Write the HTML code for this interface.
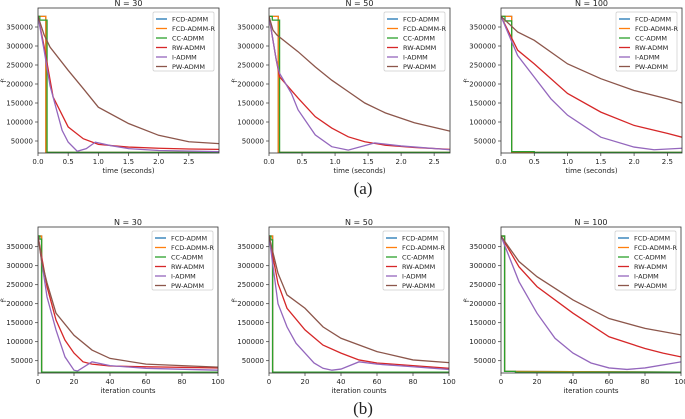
<!DOCTYPE html>
<html><head><meta charset="utf-8"><style>
body{margin:0;background:#fff}
svg{display:block;font-family:"DejaVu Sans","Liberation Sans",sans-serif}
</style></head><body>
<svg id="fig" width="685" height="419" viewBox="0 0 685 419"></svg>
<script>
// ---- data ----
const seriesNames = ["FCD-ADMM","FCD-ADMM-R","CC-ADMM","RW-ADMM","I-ADMM","PW-ADMM"];
const seriesColors = ["#1f77b4","#ff7f0e","#2ca02c","#d62728","#9467bd","#8c564b"];
const yTicks = [50000,100000,150000,200000,250000,300000,350000];
const timeTicks = [0,0.5,1.0,1.5,2.0,2.5];
const iterTicks = [0,20,40,60,80,100];
const panelTitles = ["N = 30","N = 50","N = 100","N = 30","N = 50","N = 100"];
const panelXmax = [3.0,2.74,2.72,100,100,100];

// panel 1 (N=30, time)
const p1_fcd_x=[0,0.13,0.13,3.0], p1_fcd_y=[378000,378000,20000,20000];
const p1_fcdr_x=[0,0.13,0.13,3.0], p1_fcdr_y=[378000,378000,20000,20000];
const p1_cc_x=[0,0.03,0.03,0.15,0.15,3.0], p1_cc_y=[378000,378000,368000,368000,20000,20000];
const p1_rw_x=[0,0.1,0.25,0.5,0.75,1.0,1.5,2.0,2.5,3.0], p1_rw_y=[378000,300000,166000,87000,56000,41000,34000,31000,29000,28000];
const p1_i_x=[0,0.1,0.2,0.4,0.5,0.65,0.8,0.95,1.2,1.5,2.0,3.0], p1_i_y=[378000,290000,195000,78000,47000,23000,30000,47000,38000,30000,25000,22000];
const p1_pw_x=[0,0.1,0.2,0.5,0.75,1.0,1.5,2.0,2.5,3.0], p1_pw_y=[378000,330000,297000,236000,188000,139000,96000,65000,48000,43000];
// panel 2 (N=50, time)
const p2_fcd_x=[0,0.14,0.14,2.74], p2_fcd_y=[378000,378000,20000,20000];
const p2_fcdr_x=[0,0.14,0.14,2.74], p2_fcdr_y=[378000,378000,20000,20000];
const p2_cc_x=[0,0.05,0.05,0.16,0.16,2.74], p2_cc_y=[378000,378000,368000,368000,20000,20000];
const p2_rw_x=[0,0.11,0.16,0.44,0.7,0.95,1.2,1.45,1.76,2.2,2.74], p2_rw_y=[378000,263000,219000,163000,114000,84000,61000,48000,39000,33000,28000];
const p2_i_x=[0,0.11,0.16,0.34,0.44,0.7,0.95,1.2,1.6,2.0,2.74], p2_i_y=[378000,263000,228000,175000,132000,66000,35000,26000,45000,37000,27000];
const p2_pw_x=[0,0.06,0.12,0.44,0.7,0.95,1.2,1.45,1.76,2.2,2.74], p2_pw_y=[378000,342000,329000,285000,245000,210000,180000,150000,124000,98000,76000];
// panel 3 (N=100, time)
const p3_fcd_x=[0,0.16,0.16,2.72], p3_fcd_y=[378000,378000,20000,20000];
const p3_fcdr_x=[0,0.16,0.16,2.72], p3_fcdr_y=[378000,378000,20000,20000];
const p3_cc_x=[0,0.06,0.06,0.16,0.16,0.5,0.5,2.72], p3_cc_y=[378000,378000,366000,366000,22000,22000,20000,20000];
const p3_rw_x=[0,0.25,0.5,1.0,1.5,2.0,2.5,2.72], p3_rw_y=[378000,289000,253000,175000,126000,91000,70000,60000];
const p3_i_x=[0,0.25,0.5,0.75,1.0,1.5,2.0,2.3,2.72], p3_i_y=[378000,275000,218000,161000,118000,60000,34000,27000,31000];
const p3_pw_x=[0,0.25,0.5,1.0,1.5,2.0,2.5,2.72], p3_pw_y=[378000,337000,315000,253000,214000,183000,161000,150000];
// panel 4 (N=30, iterations)
const p4_fcd_x=[0,2,2,100], p4_fcd_y=[378000,378000,20000,20000];
const p4_fcdr_x=[0,2,2,100], p4_fcdr_y=[378000,378000,20000,20000];
const p4_cc_x=[0,1,1,2,2,100], p4_cc_y=[378000,378000,370000,370000,20000,20000];
const p4_rw_x=[0,5,10,15,20,25,30,40,60,100], p4_rw_y=[378000,245000,157000,104000,70000,47000,41000,36000,34000,31000];
const p4_i_x=[0,5,10,15,20,22,30,40,60,100], p4_i_y=[378000,218000,131000,60000,25000,23000,47000,37000,30000,25000];
const p4_pw_x=[0,2,5,10,20,30,40,60,100], p4_pw_y=[378000,312000,255000,175000,117000,78000,56000,41000,33000];
// panel 5 (N=50, iterations)
const p5_fcd_x=[0,2,2,100], p5_fcd_y=[378000,378000,20000,20000];
const p5_fcdr_x=[0,2,2,100], p5_fcdr_y=[378000,378000,20000,20000];
const p5_cc_x=[0,1,1,2,2,100], p5_cc_y=[378000,378000,368000,368000,20000,20000];
const p5_rw_x=[0,5,10,20,30,40,50,60,80,100], p5_rw_y=[378000,253000,188000,131000,91000,70000,52000,44000,37000,30000];
const p5_i_x=[0,5,10,15,20,25,30,35,40,50,60,80,100], p5_i_y=[378000,200000,139000,96000,70000,44000,30000,25000,28000,47000,41000,34000,27000];
const p5_pw_x=[0,5,10,20,30,40,60,80,100], p5_pw_y=[378000,280000,223000,188000,139000,109000,74000,52000,45000];
// panel 6 (N=100, iterations)
const p6_fcd_x=[0,2,2,100], p6_fcd_y=[378000,378000,22000,20000];
const p6_fcdr_x=[0,2,2,100], p6_fcdr_y=[378000,378000,22000,20000];
const p6_cc_x=[0,2,2,8,8,100], p6_cc_y=[378000,378000,22000,22000,20000,20000];
const p6_rw_x=[0,10,20,40,60,80,90,100], p6_rw_y=[378000,297000,245000,175000,113000,82000,70000,60000];
const p6_i_x=[0,10,20,30,40,50,60,70,80,100], p6_i_y=[378000,258000,175000,109000,70000,44000,31000,27000,31000,47000];
const p6_pw_x=[0,10,20,40,60,80,100], p6_pw_y=[378000,311000,271000,210000,161000,135000,118000];

const panelData = [
 [[p1_fcd_x,p1_fcd_y],[p1_fcdr_x,p1_fcdr_y],[p1_cc_x,p1_cc_y],[p1_rw_x,p1_rw_y],[p1_i_x,p1_i_y],[p1_pw_x,p1_pw_y]],
 [[p2_fcd_x,p2_fcd_y],[p2_fcdr_x,p2_fcdr_y],[p2_cc_x,p2_cc_y],[p2_rw_x,p2_rw_y],[p2_i_x,p2_i_y],[p2_pw_x,p2_pw_y]],
 [[p3_fcd_x,p3_fcd_y],[p3_fcdr_x,p3_fcdr_y],[p3_cc_x,p3_cc_y],[p3_rw_x,p3_rw_y],[p3_i_x,p3_i_y],[p3_pw_x,p3_pw_y]],
 [[p4_fcd_x,p4_fcd_y],[p4_fcdr_x,p4_fcdr_y],[p4_cc_x,p4_cc_y],[p4_rw_x,p4_rw_y],[p4_i_x,p4_i_y],[p4_pw_x,p4_pw_y]],
 [[p5_fcd_x,p5_fcd_y],[p5_fcdr_x,p5_fcdr_y],[p5_cc_x,p5_cc_y],[p5_rw_x,p5_rw_y],[p5_i_x,p5_i_y],[p5_pw_x,p5_pw_y]],
 [[p6_fcd_x,p6_fcd_y],[p6_fcdr_x,p6_fcdr_y],[p6_cc_x,p6_cc_y],[p6_rw_x,p6_rw_y],[p6_i_x,p6_i_y],[p6_pw_x,p6_pw_y]]
];

// ---- layout ----
const boxes = [
 {l:38,r:219,t:8,b:153,y350:27},
 {l:269,r:450,t:8,b:153,y350:27},
 {l:501,r:682,t:8,b:153,y350:27},
 {l:38,r:218,t:227,b:373,y350:246.7},
 {l:269,r:449,t:227,b:373,y350:246.7},
 {l:501,r:681,t:227,b:373,y350:246.7}
];
const NS="http://www.w3.org/2000/svg";
const svg=document.getElementById('fig');
function el(tag,attrs,parent){const e=document.createElementNS(NS,tag);for(const k in attrs)e.setAttribute(k,attrs[k]);(parent||svg).appendChild(e);return e;}
function txt(s,attrs,parent){const e=el('text',attrs,parent);e.textContent=s;return e;}

boxes.forEach((B,pi)=>{
  const g=el('g',{});
  
  
  const isTime=pi<3;
  const xmax=panelXmax[pi];
  const X=v=>B.l+(v/xmax)*(B.r-B.l);
  const Y=v=>B.y350+(350000-v)*0.00038;
  const clipId='clip'+pi;
  const cp=el('clipPath',{id:clipId},g);
  el('rect',{x:B.l,y:B.t,width:B.r-B.l,height:B.b-B.t},cp);
  const sg=el('g',{'clip-path':'url(#'+clipId+')'},g);
  panelData[pi].forEach((s,si)=>{
    const pts=s[0].map((xv,i)=>X(xv).toFixed(2)+','+Y(s[1][i]).toFixed(2)).join(' ');
    const pl=el('polyline',{points:pts,fill:'none',stroke:seriesColors[si],'stroke-width':1.3,'stroke-linejoin':'miter'},sg);
    
    
  });
  const fr=el('rect',{x:B.l,y:B.t,width:B.r-B.l,height:B.b-B.t,fill:'none',stroke:'#333','stroke-width':0.8},g);
  
  
  yTicks.forEach(v=>{
    const y=Y(v);
    el('line',{x1:B.l-3,x2:B.l,y1:y,y2:y,stroke:'#333','stroke-width':0.7},g);
    const t=txt(String(v),{x:B.l-5,y:y+2.5,'font-size':7,'text-anchor':'end',fill:'#222'},g);
    
    
  });
  const xt=isTime?timeTicks:iterTicks;
  xt.forEach(v=>{
    const x=X(v);
    el('line',{x1:x,x2:x,y1:B.b,y2:B.b+3,stroke:'#333','stroke-width':0.7},g);
    const t=txt(isTime?v.toFixed(1):String(v),{x:x,y:B.b+11,'font-size':7,'text-anchor':'middle',fill:'#222'},g);
    
    
  });
  const xl=txt(isTime?'time (seconds)':'iteration counts',{x:(B.l+B.r)/2,y:B.b+20,'font-size':7,'text-anchor':'middle',fill:'#222'},g);
  
  
  const yl=txt('f\u1D57',{x:0,y:0,'font-size':7,'text-anchor':'middle',fill:'#222',transform:'translate('+(B.l-32)+','+((B.t+B.b)/2)+') rotate(-90)'},g);
  
  
  const tt=txt(panelTitles[pi],{x:(B.l+B.r)/2,y:B.t-2,'font-size':8,'text-anchor':'middle',fill:'#222'},g);
  
  
  const lg=el('g',{},g);
  
  
  const lx=B.r-66, ly=B.t+4;
  el('rect',{x:lx,y:ly,width:61,height:59,fill:'#fff',stroke:'#ccc','stroke-width':0.7,rx:1.5},lg);
  seriesNames.forEach((n,si)=>{
    const yy=ly+7+si*9.5;
    const ln=el('line',{x1:lx+3,x2:lx+14,y1:yy,y2:yy,stroke:seriesColors[si],'stroke-width':1.3},lg);
    
    
    const t=txt(n,{x:lx+19,y:yy+2.4,'font-size':6.5,fill:'#222'},lg);
    
    
  });
});
const ca=txt('(a)',{x:363,y:194,'font-size':17,'text-anchor':'middle',fill:'#222','font-family':'Liberation Serif, serif'});


const cb=txt('(b)',{x:363,y:414,'font-size':17,'text-anchor':'middle',fill:'#222','font-family':'Liberation Serif, serif'});


</script>
</body></html>
